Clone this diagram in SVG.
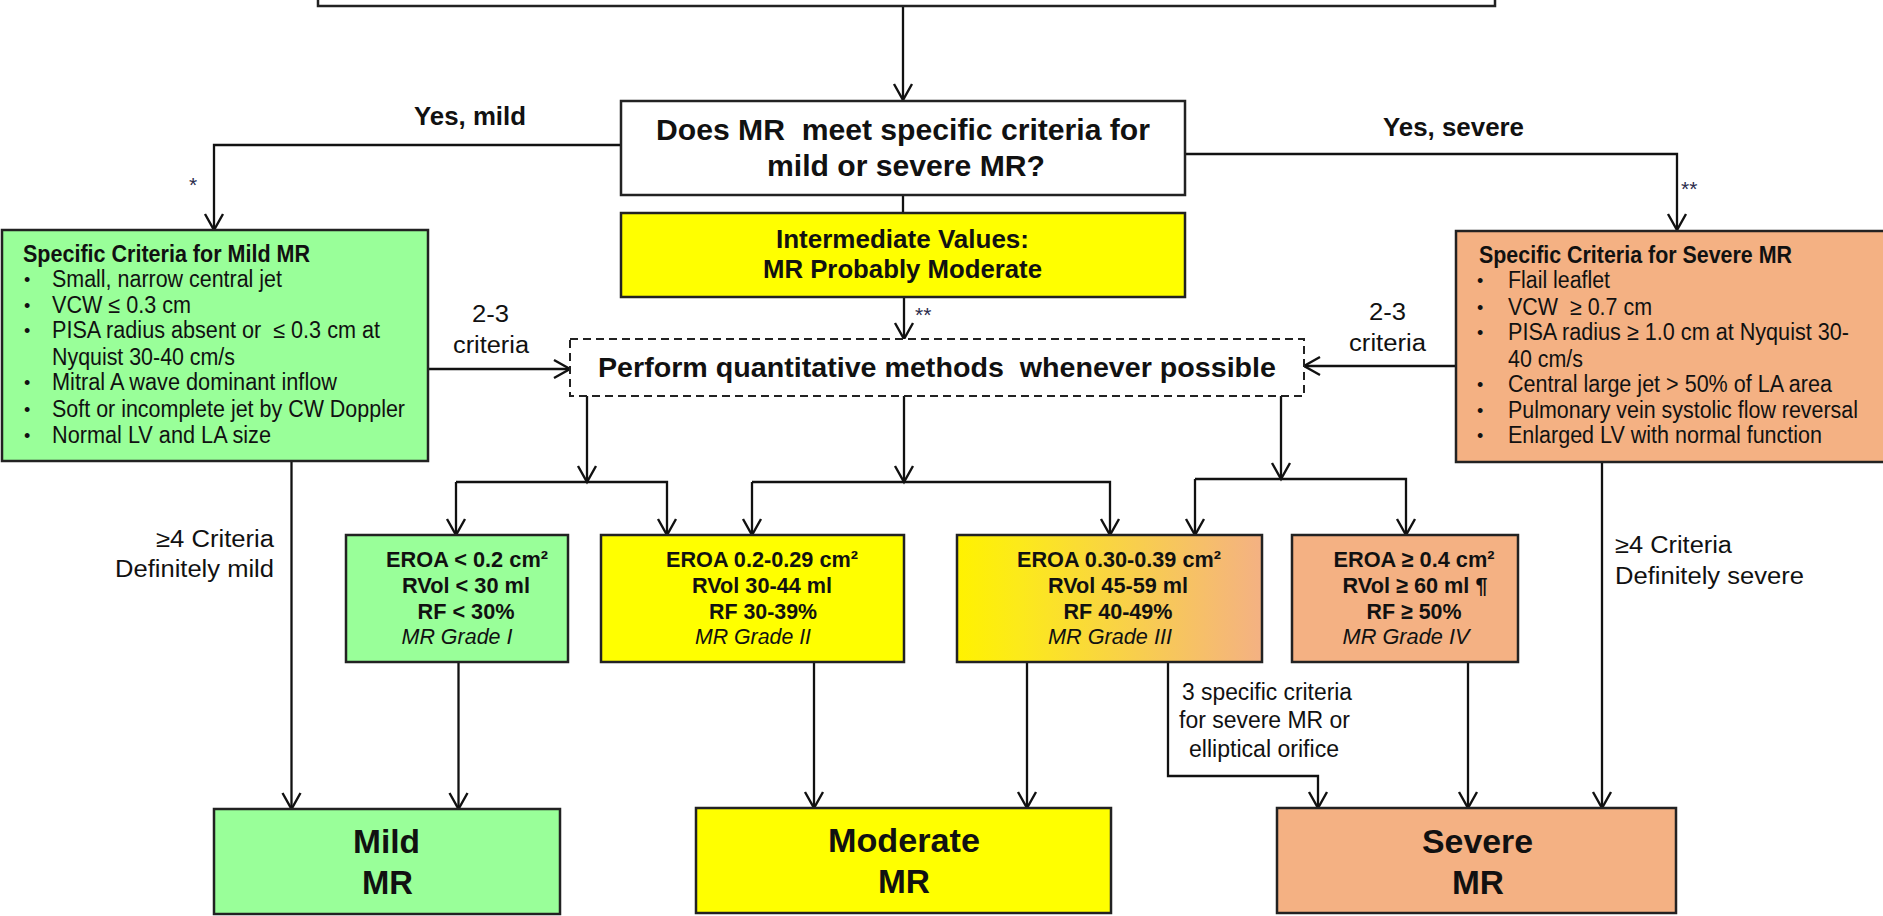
<svg xmlns="http://www.w3.org/2000/svg" width="1883" height="916" viewBox="0 0 1883 916">
<style>
text{font-family:"Liberation Sans",Arial,sans-serif;fill:#111}
.b{font-weight:bold}
.i{font-style:italic}
.box{stroke:#222;stroke-width:2.5}
.ln{fill:none;stroke:#111;stroke-width:2.3}
.ast{font-size:21px;fill:#2b2b4b}
.crit{font-size:23.5px}
.bul{font-size:18px}
.ero{font-size:22.5px;font-weight:bold;text-anchor:middle}
.gr{font-size:22.5px;font-style:italic;text-anchor:middle}
.big{font-size:34px;font-weight:bold}
.lab{font-size:23.5px}
</style>
<defs>
<marker id="arr" markerUnits="userSpaceOnUse" viewBox="-20 -12 24 24" refX="0" refY="0" markerWidth="24" markerHeight="24" orient="auto">
<path d="M-16,-9 L0,0 L-16,9" fill="none" stroke="#111" stroke-width="2.4"/>
</marker>
<linearGradient id="gy" x1="0" y1="0" x2="1" y2="0">
<stop offset="0" stop-color="#FFF200"/>
<stop offset="0.2" stop-color="#FCEA1A"/>
<stop offset="1" stop-color="#F4B183"/>
</linearGradient>
</defs>

<g id="connectors">
<path class="ln" d="M903,6 V100" marker-end="url(#arr)"/>
<path class="ln" d="M621,145 H214 V230" marker-end="url(#arr)"/>
<path class="ln" d="M1185,154 H1677 V230" marker-end="url(#arr)"/>
<path class="ln" d="M903,195 V213"/>
<path class="ln" d="M904,297 V339" marker-end="url(#arr)"/>
<path class="ln" d="M428,369 H570" marker-end="url(#arr)"/>
<path class="ln" d="M1456,366 H1304" marker-end="url(#arr)"/>
<path class="ln" d="M587,396 V482" marker-end="url(#arr)"/>
<path class="ln" d="M456,482 V535" marker-end="url(#arr)"/>
<path class="ln" d="M456,482 H667 V535" marker-end="url(#arr)"/>
<path class="ln" d="M904,396 V482" marker-end="url(#arr)"/>
<path class="ln" d="M752,482 V535" marker-end="url(#arr)"/>
<path class="ln" d="M752,482 H1110 V535" marker-end="url(#arr)"/>
<path class="ln" d="M1281,396 V479" marker-end="url(#arr)"/>
<path class="ln" d="M1195,479 V535" marker-end="url(#arr)"/>
<path class="ln" d="M1195,479 H1406 V535" marker-end="url(#arr)"/>
<path class="ln" d="M291.5,461 V809" marker-end="url(#arr)"/>
<path class="ln" d="M458.5,662 V809" marker-end="url(#arr)"/>
<path class="ln" d="M814,662 V808" marker-end="url(#arr)"/>
<path class="ln" d="M1027,662 V808" marker-end="url(#arr)"/>
<path class="ln" d="M1168,662 V776 H1318 V808" marker-end="url(#arr)"/>
<path class="ln" d="M1468,662 V808" marker-end="url(#arr)"/>
<path class="ln" d="M1602,462 V808" marker-end="url(#arr)"/>
</g>

<g id="labels">
<text class="b" x="414" y="125" font-size="26" textLength="112" lengthAdjust="spacingAndGlyphs">Yes, mild</text>
<text class="b" x="1383" y="136" font-size="26" textLength="141" lengthAdjust="spacingAndGlyphs">Yes, severe</text>
<text class="ast" x="189" y="192">*</text>
<text class="ast" x="1681" y="196">**</text>
<text class="ast" x="915" y="322">**</text>
<text class="lab" x="472" y="322" textLength="37" lengthAdjust="spacingAndGlyphs">2-3</text>
<text class="lab" x="453" y="353" textLength="76" lengthAdjust="spacingAndGlyphs">criteria</text>
<text class="lab" x="1369" y="320" textLength="37" lengthAdjust="spacingAndGlyphs">2-3</text>
<text class="lab" x="1349" y="351" textLength="77" lengthAdjust="spacingAndGlyphs">criteria</text>
<text class="lab" x="156" y="547" textLength="118" lengthAdjust="spacingAndGlyphs">≥4 Criteria</text>
<text class="lab" x="115" y="577" textLength="159" lengthAdjust="spacingAndGlyphs">Definitely mild</text>
<text class="lab" x="1615" y="553" textLength="117" lengthAdjust="spacingAndGlyphs">≥4 Criteria</text>
<text class="lab" x="1615" y="584" textLength="189" lengthAdjust="spacingAndGlyphs">Definitely severe</text>
<text class="lab" x="1182" y="700" textLength="170" lengthAdjust="spacingAndGlyphs">3 specific criteria</text>
<text class="lab" x="1179" y="728" textLength="171" lengthAdjust="spacingAndGlyphs">for severe MR or</text>
<text class="lab" x="1189" y="757" textLength="150" lengthAdjust="spacingAndGlyphs">elliptical orifice</text>
</g>

<g id="top-box">
<rect class="box" x="318" y="-20" width="1177" height="26" fill="#fff"/>
</g>

<g id="question">
<rect class="box" x="621" y="101" width="564" height="94" fill="#fff"/>
<text class="b" x="656" y="140" font-size="29" xml:space="preserve" textLength="494" lengthAdjust="spacingAndGlyphs">Does MR  meet specific criteria for</text>
<text class="b" x="767" y="176" font-size="29" textLength="278" lengthAdjust="spacingAndGlyphs">mild or severe MR?</text>
</g>

<g id="intermediate">
<rect class="box" x="621" y="213" width="564" height="84" fill="#FFFF00"/>
<text class="b" x="776" y="248" font-size="26" textLength="253" lengthAdjust="spacingAndGlyphs">Intermediate Values:</text>
<text class="b" x="763" y="278" font-size="26" textLength="279" lengthAdjust="spacingAndGlyphs">MR Probably Moderate</text>
</g>

<g id="quantitative">
<rect x="570" y="339" width="734" height="57" fill="#fff" stroke="#222" stroke-width="2" stroke-dasharray="8,5"/>
<text class="b" x="598" y="377" font-size="28" xml:space="preserve" textLength="678" lengthAdjust="spacingAndGlyphs">Perform quantitative methods  whenever possible</text>
</g>

<g id="mild-criteria">
<rect class="box" x="2" y="230" width="426" height="231" fill="#99FF99"/>
<text class="crit b" x="23" y="262" textLength="287" lengthAdjust="spacingAndGlyphs">Specific Criteria for Mild MR</text>
<text class="bul" x="24" y="286">•</text>
<text class="crit" x="52" y="287" textLength="230" lengthAdjust="spacingAndGlyphs">Small, narrow central jet</text>
<text class="bul" x="24" y="312">•</text>
<text class="crit" x="52" y="313" textLength="139" lengthAdjust="spacingAndGlyphs">VCW ≤ 0.3 cm</text>
<text class="bul" x="24" y="337">•</text>
<text class="crit" x="52" y="338" xml:space="preserve" textLength="328" lengthAdjust="spacingAndGlyphs">PISA radius absent or  ≤ 0.3 cm at</text>
<text class="crit" x="52" y="365" textLength="183" lengthAdjust="spacingAndGlyphs">Nyquist 30-40 cm/s</text>
<text class="bul" x="24" y="389">•</text>
<text class="crit" x="52" y="390" textLength="285" lengthAdjust="spacingAndGlyphs">Mitral A wave dominant inflow</text>
<text class="bul" x="24" y="416">•</text>
<text class="crit" x="52" y="417" textLength="353" lengthAdjust="spacingAndGlyphs">Soft or incomplete jet by CW Doppler</text>
<text class="bul" x="24" y="442">•</text>
<text class="crit" x="52" y="443" textLength="219" lengthAdjust="spacingAndGlyphs">Normal LV and LA size</text>
</g>

<g id="severe-criteria">
<rect class="box" x="1456" y="231" width="440" height="231" fill="#F4B183"/>
<text class="crit b" x="1479" y="263" textLength="313" lengthAdjust="spacingAndGlyphs">Specific Criteria for Severe MR</text>
<text class="bul" x="1477" y="287">•</text>
<text class="crit" x="1508" y="288" textLength="102" lengthAdjust="spacingAndGlyphs">Flail leaflet</text>
<text class="bul" x="1477" y="314">•</text>
<text class="crit" x="1508" y="315" xml:space="preserve" textLength="144" lengthAdjust="spacingAndGlyphs">VCW  ≥ 0.7 cm</text>
<text class="bul" x="1477" y="339">•</text>
<text class="crit" x="1508" y="340" textLength="341" lengthAdjust="spacingAndGlyphs">PISA radius ≥ 1.0 cm at Nyquist 30-</text>
<text class="crit" x="1508" y="367" textLength="75" lengthAdjust="spacingAndGlyphs">40 cm/s</text>
<text class="bul" x="1477" y="391">•</text>
<text class="crit" x="1508" y="392" textLength="324" lengthAdjust="spacingAndGlyphs">Central large jet &gt; 50% of LA area</text>
<text class="bul" x="1477" y="417">•</text>
<text class="crit" x="1508" y="418" textLength="350" lengthAdjust="spacingAndGlyphs">Pulmonary vein systolic flow reversal</text>
<text class="bul" x="1477" y="442">•</text>
<text class="crit" x="1508" y="443" textLength="314" lengthAdjust="spacingAndGlyphs">Enlarged LV with normal function</text>
</g>

<g id="grade1">
<rect class="box" x="346" y="535" width="222" height="127" fill="#99FF99"/>
<text class="ero" x="467" y="567" textLength="162" lengthAdjust="spacingAndGlyphs">EROA &lt; 0.2 cm²</text>
<text class="ero" x="466" y="593" textLength="128" lengthAdjust="spacingAndGlyphs">RVol &lt; 30 ml</text>
<text class="ero" x="466" y="619" textLength="97" lengthAdjust="spacingAndGlyphs">RF &lt; 30%</text>
<text class="gr" x="457" y="644" textLength="111" lengthAdjust="spacingAndGlyphs">MR Grade I</text>
</g>

<g id="grade2">
<rect class="box" x="601" y="535" width="303" height="127" fill="#FFFF00"/>
<text class="ero" x="762" y="567" textLength="192" lengthAdjust="spacingAndGlyphs">EROA 0.2-0.29 cm²</text>
<text class="ero" x="762" y="593" textLength="140" lengthAdjust="spacingAndGlyphs">RVol 30-44 ml</text>
<text class="ero" x="763" y="619" textLength="108" lengthAdjust="spacingAndGlyphs">RF 30-39%</text>
<text class="gr" x="753" y="644" textLength="116" lengthAdjust="spacingAndGlyphs">MR Grade II</text>
</g>

<g id="grade3">
<rect class="box" x="957" y="535" width="305" height="127" fill="url(#gy)"/>
<text class="ero" x="1119" y="567" textLength="204" lengthAdjust="spacingAndGlyphs">EROA 0.30-0.39 cm²</text>
<text class="ero" x="1118" y="593" textLength="140" lengthAdjust="spacingAndGlyphs">RVol 45-59 ml</text>
<text class="ero" x="1118" y="619" textLength="109" lengthAdjust="spacingAndGlyphs">RF 40-49%</text>
<text class="gr" x="1110" y="644" textLength="124" lengthAdjust="spacingAndGlyphs">MR Grade III</text>
</g>

<g id="grade4">
<rect class="box" x="1292" y="535" width="226" height="127" fill="#F4B183"/>
<text class="ero" x="1414" y="567" textLength="161" lengthAdjust="spacingAndGlyphs">EROA ≥ 0.4 cm²</text>
<text class="ero" x="1415" y="593" textLength="145" lengthAdjust="spacingAndGlyphs">RVol ≥ 60 ml ¶</text>
<text class="ero" x="1414" y="619" textLength="95" lengthAdjust="spacingAndGlyphs">RF ≥ 50%</text>
<text class="gr" x="1406" y="644" textLength="127" lengthAdjust="spacingAndGlyphs">MR Grade IV</text>
</g>

<g id="mild-mr">
<rect class="box" x="214" y="809" width="346" height="105" fill="#99FF99"/>
<text class="big" x="353" y="853" textLength="67" lengthAdjust="spacingAndGlyphs">Mild</text>
<text class="big" x="362" y="894" textLength="51" lengthAdjust="spacingAndGlyphs">MR</text>
</g>

<g id="moderate-mr">
<rect class="box" x="696" y="808" width="415" height="105" fill="#FFFF00"/>
<text class="big" x="828" y="852" textLength="152" lengthAdjust="spacingAndGlyphs">Moderate</text>
<text class="big" x="878" y="893" textLength="52" lengthAdjust="spacingAndGlyphs">MR</text>
</g>

<g id="severe-mr">
<rect class="box" x="1277" y="808" width="399" height="105" fill="#F4B183"/>
<text class="big" x="1422" y="853" textLength="111" lengthAdjust="spacingAndGlyphs">Severe</text>
<text class="big" x="1452" y="894" textLength="52" lengthAdjust="spacingAndGlyphs">MR</text>
</g>
</svg>
